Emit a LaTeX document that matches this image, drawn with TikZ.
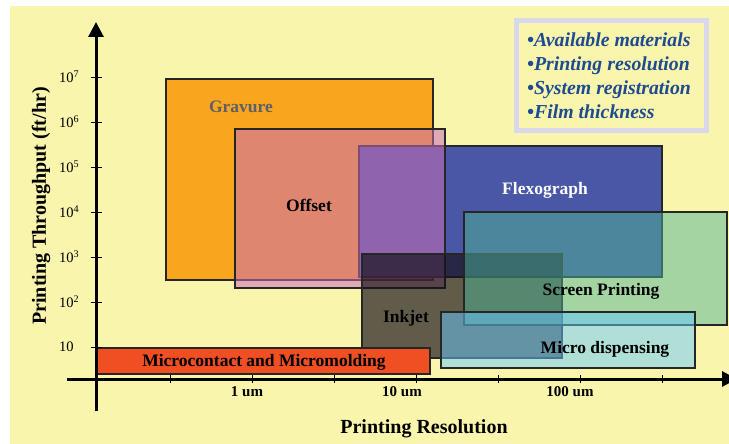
\documentclass[tikz,border=0pt]{standalone}
\usepackage{fontspec}
\setmainfont{Liberation Serif}
\usepackage{tikz}
\usetikzlibrary{arrows.meta,positioning}
\definecolor{bgyellow}{RGB}{249,245,173}
\definecolor{gravfill}{RGB}{249,166,30}
\definecolor{offsetfill}{RGB}{202,109,181}
\definecolor{flexfill}{RGB}{72,88,166}
\definecolor{inkfill}{RGB}{22,17,24}
\definecolor{screenfill}{RGB}{78,180,150}
\definecolor{dispfill}{RGB}{102,202,255}
\definecolor{mcfill}{RGB}{240,78,35}
\definecolor{critbdr}{RGB}{216,216,236}
\definecolor{crittxt}{RGB}{30,75,145}
\definecolor{gravtxt}{RGB}{95,95,105}
\tikzset{
  axisln/.style={-{Triangle[length=15pt,width=15pt]}, line width=3pt},
  tickln/.style={line width=0.9pt},
  procbox/.style={draw=black!85, line width=1.1pt},
  proclbl/.style={font=\bfseries\fontsize{17.5}{20}\selectfont, inner sep=0pt},
  ticklbl/.style={font=\fontsize{14.5}{16}\selectfont, inner sep=0pt},
  reslbl/.style={font=\bfseries\fontsize{15}{17}\selectfont, inner sep=0pt},
  axislbl/.style={font=\bfseries\fontsize{20}{22}\selectfont, inner sep=0pt},
}
\tikzset{critline/.style={font=\bfseries\itshape\fontsize{19.8}{22}\selectfont,
  text=crittxt, inner sep=0pt, anchor=base west}}

\begin{document}
\begin{tikzpicture}[x=1pt,y=-1pt]
    \useasboundingbox (0,0) rectangle (729,444);
    \fill[white] (0,0) rectangle (729,444);
    \fill[bgyellow] (10,6) rectangle (729,444);

    % ----- process windows (back to front) -----
    \draw[procbox, fill=gravfill] (166,79) rectangle (433,280);
    \draw[procbox, fill=flexfill] (359,146) rectangle (662,277);
    \draw[procbox, fill=offsetfill, fill opacity=0.55] (235,129) rectangle (445,288);
    \draw[procbox, fill=inkfill, fill opacity=0.67] (362,254) rectangle (562,358);
    \draw[procbox, fill=screenfill, fill opacity=0.5] (464,212) rectangle (727,325);
    \draw[procbox, fill=dispfill, fill opacity=0.5] (441,312) rectangle (695,368);
    \draw[procbox, fill=mcfill] (97,348) rectangle (430,374);

    \node[proclbl, text=gravtxt] (gravure) at (241,107) {Gravure};
    \node[proclbl] (offset) at (309,205) {Offset};
    \node[proclbl, text=white] (flexo) at (545,190) {Flexograph};
    \node[proclbl] (screen) at (601,291) {Screen Printing};
    \node[proclbl] (inkjet) at (406,318) {Inkjet};
    \node[proclbl] (disp) at (605,349) {Micro dispensing};
    \node[proclbl] (mcontact) at (264,362) {Microcontact and Micromolding};

    % ----- axes -----
    \coordinate (ybot) at (96,411);
    \coordinate (ytop) at (96,22);
    \coordinate (xleft) at (67,379);
    \coordinate (xright) at (737,379);
    \draw[axisln] (ybot) -- (ytop);
    \draw[axisln] (xleft) -- (xright);

    % throughput decades
    \foreach \yy/\txt [count=\i] in {347/10, 302/10\textsuperscript{2}, 257/10\textsuperscript{3},
        212/10\textsuperscript{4}, 167/10\textsuperscript{5}, 122/10\textsuperscript{6}, 77/10\textsuperscript{7}}{
      \draw[tickln] (91,\yy) -- (102,\yy);
      \node[ticklbl, anchor=west] (dec\i) at (59,\yy) {\txt};
    }
    % resolution ticks
    \foreach \xx in {170,252,334,416,498,580,662}
      \draw[tickln] (\xx,375) -- (\xx,383);
    \node[reslbl] (res1) at (247,392) {1 um};
    \node[reslbl] (res10) at (402,392) {10 um};
    \node[reslbl] (res100) at (570,392) {100 um};

    \node[axislbl] (xlabel) at (424,429) {Printing Resolution};
    \node[axislbl, rotate=90] (ylabel) at (41,206) {Printing Throughput (ft/hr)};

    % ----- selection criteria -----
    \draw[draw=critbdr, line width=5pt, fill=bgyellow] (516.5,20.5) rectangle (706.5,130.5);
    \foreach \txt [count=\i] in {Available materials, Printing resolution,
        System registration, Film thickness}
      \node[critline] (crit\i) at (527,{47+23.7*(\i-1)}) {\textbullet\txt};
\end{tikzpicture}
\end{document}
